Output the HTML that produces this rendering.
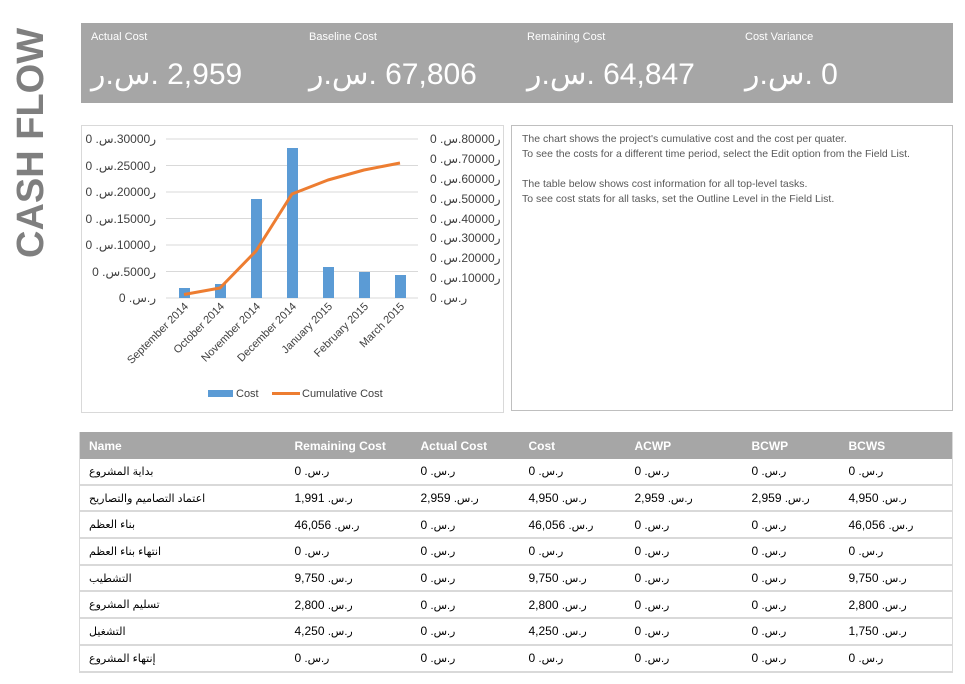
<!DOCTYPE html>
<html><head><meta charset="utf-8"><style>
body{margin:0;width:965px;height:684px;background:#fff;position:relative;overflow:hidden;font-family:"Liberation Sans","DejaVu Sans",sans-serif;}
.abs{position:absolute}
.kpi{background:#a6a6a6;left:81px;top:23px;width:872px;height:80px;color:#fff}
.kl{position:absolute;top:8px;font-size:11px}
.kv{position:absolute;top:34px;font-size:30px;white-space:nowrap}
.o{unicode-bidi:bidi-override;direction:ltr}
.a{display:inline-block;font-size:11px;unicode-bidi:bidi-override;direction:ltr}
table{border-collapse:collapse;font-size:12px;color:#000;table-layout:fixed}
td{height:24.7px;padding:0 0 0 9px;border-bottom:2px solid #d9d9d9;white-space:nowrap;text-align:left}
th{background:#a6a6a6;color:#fff;text-align:left;height:27px;padding:0 0 0 9px;font-size:12px}
td.n{font-size:11px}
</style></head><body>
<div class="abs" style="left:9px;top:258px;transform:rotate(-90deg);transform-origin:0 0;font-size:38px;font-weight:bold;color:#7f7f7f;white-space:nowrap;line-height:44px">CASH FLOW</div>
<div class="abs kpi">
<div class="kl" style="left:10px">Actual Cost</div><div class="kv" style="left:10px"><span class="o">ر.س. 2,959</span></div>
<div class="kl" style="left:228px">Baseline Cost</div><div class="kv" style="left:228px"><span class="o">ر.س. 67,806</span></div>
<div class="kl" style="left:446px">Remaining Cost</div><div class="kv" style="left:446px"><span class="o">ر.س. 64,847</span></div>
<div class="kl" style="left:664px">Cost Variance</div><div class="kv" style="left:664px"><span class="o">ر.س. 0</span></div>
</div>
<div class="abs" style="left:81px;top:125px;width:421px;height:286px;border:1px solid #d9d9d9"></div>
<svg class="abs" style="left:0;top:0" width="965" height="684" font-family="Liberation Sans, DejaVu Sans, sans-serif">
<g stroke="#d9d9d9" stroke-width="1">
<line x1="166" x2="418" y1="139" y2="139"/><line x1="166" x2="418" y1="165.5" y2="165.5"/><line x1="166" x2="418" y1="192" y2="192"/><line x1="166" x2="418" y1="218.5" y2="218.5"/><line x1="166" x2="418" y1="245" y2="245"/><line x1="166" x2="418" y1="271.5" y2="271.5"/><line x1="166" x2="418" y1="298" y2="298"/>
</g>
<g font-size="12" fill="#404040" text-anchor="end">
<text x="156" y="143" unicode-bidi="bidi-override">0 .س.30000ر</text>
<text x="156" y="170" unicode-bidi="bidi-override">0 .س.25000ر</text>
<text x="156" y="196" unicode-bidi="bidi-override">0 .س.20000ر</text>
<text x="156" y="223" unicode-bidi="bidi-override">0 .س.15000ر</text>
<text x="156" y="249" unicode-bidi="bidi-override">0 .س.10000ر</text>
<text x="156" y="276" unicode-bidi="bidi-override">0 .س.5000ر</text>
<text x="156" y="302" unicode-bidi="bidi-override">0 .س.ر</text>
</g>
<g font-size="12" fill="#404040" text-anchor="start">
<text x="430" y="143" unicode-bidi="bidi-override">0 .س.80000ر</text>
<text x="430" y="163" unicode-bidi="bidi-override">0 .س.70000ر</text>
<text x="430" y="183" unicode-bidi="bidi-override">0 .س.60000ر</text>
<text x="430" y="203" unicode-bidi="bidi-override">0 .س.50000ر</text>
<text x="430" y="223" unicode-bidi="bidi-override">0 .س.40000ر</text>
<text x="430" y="242" unicode-bidi="bidi-override">0 .س.30000ر</text>
<text x="430" y="262" unicode-bidi="bidi-override">0 .س.20000ر</text>
<text x="430" y="282" unicode-bidi="bidi-override">0 .س.10000ر</text>
<text x="430" y="302" unicode-bidi="bidi-override">0 .س.ر</text>
</g>
<g fill="#5b9bd5">
<rect x="179" y="288" width="11" height="10"/><rect x="215" y="284" width="11" height="14"/><rect x="251" y="199" width="11" height="99"/><rect x="287" y="148" width="11" height="150"/><rect x="323" y="267" width="11" height="31"/><rect x="359" y="272" width="11" height="26"/><rect x="395" y="275" width="11" height="23"/>
</g>
<polyline points="184,294.5 220,288 256,251 292,194 328,180 364,170 400,163" fill="none" stroke="#ed7d31" stroke-width="3" stroke-linejoin="round"/>
<g font-size="11" fill="#404040" text-anchor="end">
<text transform="translate(189,307) rotate(-45)">September 2014</text>
<text transform="translate(225,307) rotate(-45)">October 2014</text>
<text transform="translate(261,307) rotate(-45)">November 2014</text>
<text transform="translate(297,307) rotate(-45)">December 2014</text>
<text transform="translate(333,307) rotate(-45)">January 2015</text>
<text transform="translate(369,307) rotate(-45)">February 2015</text>
<text transform="translate(405,307) rotate(-45)">March 2015</text>
</g>
<rect x="208" y="390" width="25" height="7" fill="#5b9bd5"/>
<text x="236" y="397" font-size="11" fill="#404040">Cost</text>
<line x1="272" x2="300" y1="393.5" y2="393.5" stroke="#ed7d31" stroke-width="3"/>
<text x="302" y="397" font-size="11" fill="#404040">Cumulative Cost</text>
</svg>
<div class="abs" style="left:511px;top:125px;width:442px;height:286px;border:1px solid #bfbfbf;box-sizing:border-box;padding:6px 10px;font-size:10.5px;line-height:15px;color:#595959">
The chart shows the project's cumulative cost and the cost per quater.<br>To see the costs for a different time period, select the Edit option from the Field List.<br><br>The table below shows cost information for all top-level tasks.<br>To see cost stats for all tasks, set the Outline Level in the Field List.
</div>
<table class="abs" style="left:79px;top:432px;width:874px;border-left:1px solid #d9d9d9;border-right:1px solid #d9d9d9">
<colgroup><col style="width:206px"><col style="width:126px"><col style="width:108px"><col style="width:106px"><col style="width:117px"><col style="width:97px"><col></colgroup>
<tr><th>Name</th><th>Remaining Cost</th><th>Actual Cost</th><th>Cost</th><th>ACWP</th><th>BCWP</th><th>BCWS</th></tr>
<tr><td class="n">بداية المشروع</td><td>0 <span class="a">.س.ر</span></td><td>0 <span class="a">.س.ر</span></td><td>0 <span class="a">.س.ر</span></td><td>0 <span class="a">.س.ر</span></td><td>0 <span class="a">.س.ر</span></td><td>0 <span class="a">.س.ر</span></td></tr>
<tr><td class="n">اعتماد التصاميم والتصاريح</td><td>1,991 <span class="a">.س.ر</span></td><td>2,959 <span class="a">.س.ر</span></td><td>4,950 <span class="a">.س.ر</span></td><td>2,959 <span class="a">.س.ر</span></td><td>2,959 <span class="a">.س.ر</span></td><td>4,950 <span class="a">.س.ر</span></td></tr>
<tr><td class="n">بناء العظم</td><td>46,056 <span class="a">.س.ر</span></td><td>0 <span class="a">.س.ر</span></td><td>46,056 <span class="a">.س.ر</span></td><td>0 <span class="a">.س.ر</span></td><td>0 <span class="a">.س.ر</span></td><td>46,056 <span class="a">.س.ر</span></td></tr>
<tr><td class="n">انتهاء بناء العظم</td><td>0 <span class="a">.س.ر</span></td><td>0 <span class="a">.س.ر</span></td><td>0 <span class="a">.س.ر</span></td><td>0 <span class="a">.س.ر</span></td><td>0 <span class="a">.س.ر</span></td><td>0 <span class="a">.س.ر</span></td></tr>
<tr><td class="n">التشطيب</td><td>9,750 <span class="a">.س.ر</span></td><td>0 <span class="a">.س.ر</span></td><td>9,750 <span class="a">.س.ر</span></td><td>0 <span class="a">.س.ر</span></td><td>0 <span class="a">.س.ر</span></td><td>9,750 <span class="a">.س.ر</span></td></tr>
<tr><td class="n">تسليم المشروع</td><td>2,800 <span class="a">.س.ر</span></td><td>0 <span class="a">.س.ر</span></td><td>2,800 <span class="a">.س.ر</span></td><td>0 <span class="a">.س.ر</span></td><td>0 <span class="a">.س.ر</span></td><td>2,800 <span class="a">.س.ر</span></td></tr>
<tr><td class="n">التشغيل</td><td>4,250 <span class="a">.س.ر</span></td><td>0 <span class="a">.س.ر</span></td><td>4,250 <span class="a">.س.ر</span></td><td>0 <span class="a">.س.ر</span></td><td>0 <span class="a">.س.ر</span></td><td>1,750 <span class="a">.س.ر</span></td></tr>
<tr><td class="n">إنتهاء المشروع</td><td>0 <span class="a">.س.ر</span></td><td>0 <span class="a">.س.ر</span></td><td>0 <span class="a">.س.ر</span></td><td>0 <span class="a">.س.ر</span></td><td>0 <span class="a">.س.ر</span></td><td>0 <span class="a">.س.ر</span></td></tr>
</table>
</body></html>
